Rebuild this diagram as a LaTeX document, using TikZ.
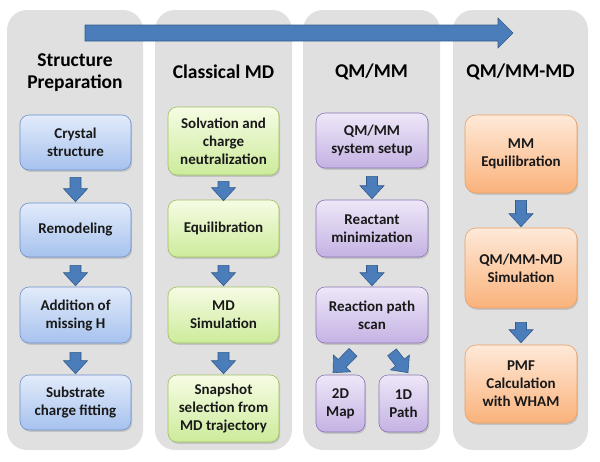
\documentclass[tikz,border=0pt]{standalone}
\usepackage{fontspec}
\setmainfont{Carlito}
\usetikzlibrary{calc,shadows}

\definecolor{panelgray}{RGB}{224,224,224}
\definecolor{bluetop}{RGB}{226,235,250}
\definecolor{bluebot}{RGB}{166,194,238}
\definecolor{blueedge}{RGB}{110,143,199}
\definecolor{greentop}{RGB}{246,252,228}
\definecolor{greenbot}{RGB}{204,235,155}
\definecolor{greenedge}{RGB}{157,190,99}
\definecolor{purpletop}{RGB}{238,231,248}
\definecolor{purplebot}{RGB}{196,178,227}
\definecolor{purpleedge}{RGB}{138,116,179}
\definecolor{orangetop}{RGB}{254,233,216}
\definecolor{orangebot}{RGB}{250,178,123}
\definecolor{orangeedge}{RGB}{230,160,100}
\definecolor{arrowfill}{RGB}{74,125,186}
\definecolor{arrowedge}{RGB}{52,92,140}

% block arrow: start, tip, shaft half width, head half width, head length
\newcommand{\fatarrow}[5]{%
  \path[fatarrow] let \p1=(#1), \p2=(#2),
      \n1={atan2(\y2-\y1,\x2-\x1)},
      \n2={veclen(\x2-\x1,\y2-\y1)-#5} in
    ($(\p1)+(\n1+90:#3)$) -- ($(\p1)+(\n1:{\n2*1pt})+(\n1+90:#3)$)
    -- ($(\p1)+(\n1:{\n2*1pt})+(\n1+90:#4)$) -- (\p2)
    -- ($(\p1)+(\n1:{\n2*1pt})+(\n1-90:#4)$) -- ($(\p1)+(\n1:{\n2*1pt})+(\n1-90:#3)$)
    -- ($(\p1)+(\n1-90:#3)$) -- cycle;}

\begin{document}
\begin{tikzpicture}[x=1pt,y=-1pt]
  \tikzstyle{panel}=[fill=panelgray, rounded corners=20pt]
  \tikzstyle{title}=[align=center, text=black, font=\fontsize{19.5}{21.5}\selectfont\bfseries]
  \tikzstyle{stepbox}=[draw, line width=0.6pt, rounded corners=9pt, align=center, inner sep=2pt,
                       text=black!90, font=\fontsize{15}{18}\selectfont\bfseries,
                       drop shadow={shadow xshift=1.2pt, shadow yshift=-1.8pt, opacity=0.3}]
  \tikzstyle{bluebox}=[stepbox, draw=blueedge, top color=bluetop, bottom color=bluebot, minimum width=111pt]
  \tikzstyle{greenbox}=[stepbox, draw=greenedge, top color=greentop, bottom color=greenbot, minimum width=111pt]
  \tikzstyle{purplebox}=[stepbox, draw=purpleedge, top color=purpletop, bottom color=purplebot, minimum width=112pt]
  \tikzstyle{orangebox}=[stepbox, draw=orangeedge, top color=orangetop, bottom color=orangebot, minimum width=112pt, rounded corners=11pt]
  \tikzstyle{fatarrow}=[draw=arrowedge, fill=arrowfill, line width=0.6pt]

  \useasboundingbox (0,0) rectangle (600,461);

  % columns
  \fill[panel] (7,10) rectangle (143,450);
  \fill[panel] (155,10) rectangle (292,450);
  \fill[panel] (303,10) rectangle (440,450);
  \fill[panel] (453,10) rectangle (588,450);

  % time line
  \coordinate (flowstart) at (85,33);
  \coordinate (flowend) at (513,33);
  \fatarrow{flowstart}{flowend}{8pt}{15pt}{15pt}

  \node[title] (prep) at (75,72.5) {Structure\\Preparation};
  \node[title] (cmd) at (223.5,72) {Classical MD};
  \node[title] (qmmm) at (371.5,72) {QM/MM};
  \node[title] (qmmmmd) at (520.5,72) {QM/MM-MD};

  % structure preparation
  \node[bluebox, minimum height=55pt] (crystal) at (75.5,142.5) {Crystal\\structure};
  \node[bluebox, minimum height=54pt] (remodel) at (75.5,230) {Remodeling};
  \node[bluebox, minimum height=56pt] (addh) at (75.5,315) {Addition of\\missing H};
  \node[bluebox, minimum height=55pt] (charge) at (75.5,402.5) {Substrate\\charge fitting};

  % classical MD
  \node[greenbox, minimum height=68pt] (solv) at (223.5,141) {Solvation and\\charge\\neutralization};
  \node[greenbox, minimum height=57pt] (equil) at (223.5,228.5) {Equilibration};
  \node[greenbox, minimum height=56pt] (mdsim) at (223.5,315) {MD\\Simulation};
  \node[greenbox, minimum height=67pt] (snap) at (223.5,408.5) {Snapshot\\selection from\\MD trajectory};

  % QM/MM
  \node[purplebox, minimum height=55pt] (setup) at (372,140.5) {QM/MM\\system setup};
  \node[purplebox, minimum height=57pt] (minim) at (372,228.5) {Reactant\\minimization};
  \node[purplebox, minimum height=56pt] (scan) at (372,315) {Reaction path\\scan};
  \node[purplebox, minimum width=49pt, minimum height=57pt] (map) at (340.5,403.5) {2D\\Map};
  \node[purplebox, minimum width=49pt, minimum height=57pt] (path) at (403.5,403.5) {1D\\Path};

  % QM/MM-MD
  \node[orangebox, minimum height=78pt] (mmeq) at (521,154) {MM\\Equilibration};
  \node[orangebox, minimum height=80pt] (qmmd) at (521,268) {QM/MM-MD\\Simulation};
  \node[orangebox, minimum height=78pt] (pmf) at (521,384) {PMF\\Calculation\\with WHAM};

  \fatarrow{$(crystal.south)+(0,7)$}{$(remodel.north)+(0,-1)$}{5.5pt}{12pt}{13pt}
  \fatarrow{$(remodel.south)+(0,8)$}{$(addh.north)+(0,-1)$}{5.5pt}{12pt}{13pt}
  \fatarrow{$(addh.south)+(0,9)$}{$(charge.north)+(0,-1)$}{5.5pt}{12pt}{13pt}
  \fatarrow{$(solv.south)+(0,6)$}{$(equil.north)+(0,1)$}{5.5pt}{12pt}{13pt}
  \fatarrow{$(equil.south)+(0,8)$}{$(mdsim.north)+(0,-1)$}{5.5pt}{12pt}{13pt}
  \fatarrow{$(mdsim.south)+(0,9)$}{$(snap.north)+(0,-1)$}{5.5pt}{12pt}{13pt}
  \fatarrow{$(setup.south)+(0,8)$}{$(minim.north)+(0,-1)$}{5.5pt}{12pt}{13pt}
  \fatarrow{$(minim.south)+(0,8)$}{$(scan.north)+(0,-1)$}{5.5pt}{12pt}{13pt}
  \fatarrow{$(scan.south)+(-19,9)$}{$(map.north)+(-7.5,-2)$}{5.5pt}{12pt}{13pt}
  \fatarrow{$(scan.south)+(20,9)$}{$(path.north)+(4.5,-2)$}{5.5pt}{12pt}{13pt}
  \fatarrow{$(mmeq.south)+(0,7)$}{$(qmmd.north)+(0,-1)$}{5.5pt}{12pt}{13pt}
  \fatarrow{$(qmmd.south)+(0,14)$}{$(pmf.north)+(0,-2)$}{5.5pt}{12pt}{13pt}
\end{tikzpicture}
\end{document}
